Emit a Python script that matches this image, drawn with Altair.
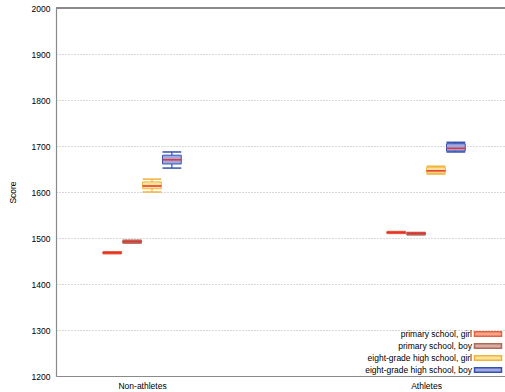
import altair as alt
import pandas as pd

categories = ["Non-athletes", "Athletes"]
groups = [
    "primary school, girl",
    "primary school, boy",
    "eight-grade high school, girl",
    "eight-grade high school, boy",
]

# Box statistics per category (rows) and group (columns)
whisker_low = [[1466, 1489, 1600, 1652], [1510, 1507, 1639, 1687]]
q1 = [[1466, 1489, 1607, 1661], [1510, 1507, 1641, 1689]]
median = [[1468, 1492, 1613, 1670], [1512, 1510, 1646, 1695]]
q3 = [[1470, 1495, 1622, 1680], [1514, 1512, 1654, 1705]]
whisker_high = [[1470, 1495, 1628, 1687], [1514, 1512, 1656, 1708]]

fill_colors = ["#f6a688", "#d6aea6", "#fbe39e", "#a2a8e0"]
line_colors = ["#e8603e", "#b06858", "#f0b53a", "#3453b0"]
median_color = "#e8302c"

rows = []
for ci, cat in enumerate(categories):
    for gi, grp in enumerate(groups):
        rows.append({
            "category": cat, "ci": ci, "group": grp, "gi": gi,
            "lo": whisker_low[ci][gi], "q1": q1[ci][gi], "med": median[ci][gi],
            "q3": q3[ci][gi], "hi": whisker_high[ci][gi],
        })
df = pd.DataFrame(rows)

FONT = "Liberation Sans"

base = alt.Chart(df).transform_calculate(
    xc="datum.ci + (datum.gi - 1.5) * 0.07",
    xl="datum.ci + (datum.gi - 1.5) * 0.07 - 0.033",
    xr="datum.ci + (datum.gi - 1.5) * 0.07 + 0.033",
)

label_expr = "datum.value == 0 ? '%s' : '%s'" % (categories[0], categories[1])

x_scale = alt.Scale(domain=[-0.303, 1.278], nice=False, zero=False)
y_scale = alt.Scale(domain=[1200, 2000], nice=False, zero=False)

x_axis = alt.Axis(
    title=None, values=[0, 1], labelExpr=label_expr, grid=False, ticks=False,
    labelFont=FONT, labelFontSize=8.5, labelColor="#000", labelPadding=5,
    domainColor="#8a8a8a", domainWidth=1.2,
)
y_axis = alt.Axis(
    title="Score", values=list(range(1200, 2001, 100)), format="d", grid=True,
    gridColor="#b0b0b0", gridDash=[1, 2], gridWidth=1, ticks=False,
    labelFont=FONT, labelFontSize=8.5, labelColor="#000", labelPadding=6,
    titleFont=FONT, titleFontSize=8.5, titleFontWeight="normal", titleColor="#000",
    titleX=-44, titleY=184, titleAngle=270, titleAlign="center", titleBaseline="middle",
    domainColor="#8a8a8a", domainWidth=1.2,
)

# wide flat swatch drawn to the right of right-aligned labels
legend = alt.Legend(
    title=None, orient="bottom-right", offset=0,
    symbolType="M-3.375,-0.56H3.375V0.56H-3.375Z", symbolSize=64, symbolStrokeWidth=1.5,
    labelAlign="right", labelOffset={"expr": "-21"}, labelFont=FONT, labelFontSize=8.5,
    labelColor="#000", rowPadding=0,
)

fill_scale = alt.Scale(domain=groups, range=fill_colors)
stroke_scale = alt.Scale(domain=groups, range=line_colors)

boxes = base.mark_rect(strokeWidth=1).encode(
    x=alt.X("xl:Q", scale=x_scale, axis=x_axis),
    x2="xr:Q",
    y=alt.Y("q1:Q", scale=y_scale, axis=y_axis),
    y2="q3:Q",
    fill=alt.Fill("group:N", scale=fill_scale, legend=legend, sort=groups),
    stroke=alt.Stroke("group:N", scale=stroke_scale, legend=legend, sort=groups),
)

whisk_lo = base.mark_rule(strokeWidth=1.2).encode(
    x="xc:Q", y="lo:Q", y2="q1:Q",
    stroke=alt.Stroke("group:N", scale=stroke_scale, legend=None),
)
whisk_hi = base.mark_rule(strokeWidth=1.2).encode(
    x="xc:Q", y="q3:Q", y2="hi:Q",
    stroke=alt.Stroke("group:N", scale=stroke_scale, legend=None),
)
cap_lo = base.mark_rule(strokeWidth=1.5).encode(
    x="xl:Q", x2="xr:Q", y="lo:Q",
    stroke=alt.Stroke("group:N", scale=stroke_scale, legend=None),
)
cap_hi = base.mark_rule(strokeWidth=1.5).encode(
    x="xl:Q", x2="xr:Q", y="hi:Q",
    stroke=alt.Stroke("group:N", scale=stroke_scale, legend=None),
)
med = base.mark_rule(strokeWidth=1.5, color=median_color).encode(
    x="xl:Q", x2="xr:Q", y="med:Q",
)

top_border = alt.Chart(df).mark_rule(color="#8a8a8a", strokeWidth=1.2).encode(
    y=alt.datum(2000), x=alt.value(0), x2=alt.value(449),
)

chart = alt.layer(boxes, whisk_lo, whisk_hi, cap_lo, cap_hi, med, top_border).properties(
    width=449, height=368,
    autosize=alt.AutoSizeParams(type="none"),
    padding={"left": 56, "top": 8, "right": 0, "bottom": 16},
    background="white",
).configure_view(stroke=None)

chart.save("out.html", embed_options={"renderer": "svg", "actions": False})
